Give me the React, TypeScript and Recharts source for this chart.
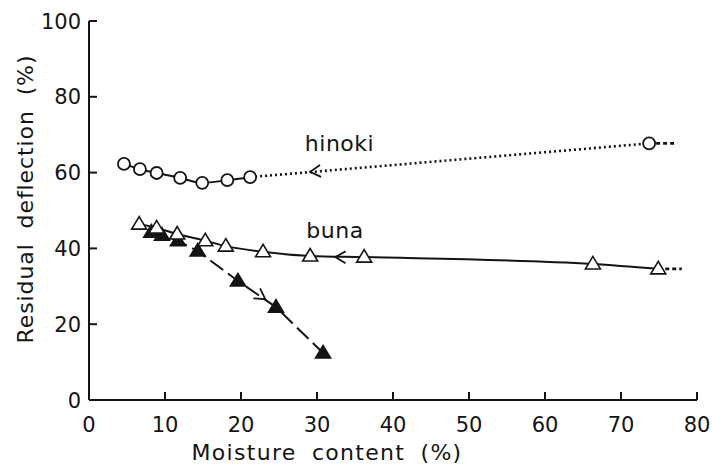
import React from 'react';
import { ComposedChart, Line, XAxis, YAxis, ReferenceDot } from 'recharts';

const xTicks = [0, 10, 20, 30, 40, 50, 60, 70, 80];
const yTicks = [0, 20, 40, 60, 80, 100];

const hinokiX = [4.6, 6.7, 8.9, 12.0, 14.9, 18.2, 21.2];
const hinokiY = [62.3, 60.9, 59.9, 58.6, 57.3, 58.0, 58.8];
const hinokiFarX = [21.2, 73.7];
const hinokiFarY = [58.8, 67.7];
const hinokiTailX = [73.7, 77.4];
const hinokiTailY = [67.7, 67.7];

const bunaOpenX = [6.6, 8.9, 11.6, 15.3, 18.0, 22.9, 29.1, 36.2, 66.3, 74.9];
const bunaOpenY = [46.4, 45.4, 43.8, 42.0, 40.6, 39.1, 38.0, 37.7, 35.9, 34.6];
const bunaTailX = [74.9, 78.0];
const bunaTailY = [34.6, 34.6];

const bunaFilledX = [8.2, 9.6, 11.7, 14.3, 19.6, 24.6, 30.8];
const bunaFilledY = [44.3, 43.5, 42.0, 39.3, 31.4, 24.5, 12.4];

const arrowX = [29.1, 32.4, 23.2];
const arrowY = [60.2, 37.7, 26.6];
const arrowAngle = [175, 181, 34];

const seriesLabels = ['hinoki', 'buna'];
const seriesLabelX = [28.4, 28.6];
const seriesLabelY = [65.7, 42.7];

const zip = (xs: number[], ys: number[]) => xs.map((x, i) => ({ x, y: ys[i] }));

const INK = '#141414';
const FONT = '"DejaVu Sans", sans-serif';

const CircleDot = (p: any) => (
  <circle key={p.key ?? `c${p.index}`} cx={p.cx} cy={p.cy} r={6} fill="#fff" stroke={INK} strokeWidth={1.8} />
);

const FirstCircleDot = (p: any) =>
  p.index === 0 ? (
    <circle key={p.key ?? `f${p.index}`} cx={p.cx} cy={p.cy} r={6} fill="#fff" stroke={INK} strokeWidth={1.8} />
  ) : (
    <g key={p.key ?? `f${p.index}`} />
  );

const TriDot = (filled: boolean) => (p: any) => (
  <polygon
    key={p.key ?? `t${p.index}`}
    points={`${p.cx},${p.cy - 7.5} ${p.cx - 7.5},${p.cy + 5} ${p.cx + 7.5},${p.cy + 5}`}
    fill={filled ? INK : '#fff'}
    stroke={INK}
    strokeWidth={1.6}
    strokeLinejoin="miter"
  />
);

const XTick = (p: any) => (
  <g>
    <line x1={p.x} x2={p.x} y1={p.y} y2={p.y - 8} stroke={INK} strokeWidth={2} />
    <text x={p.x} y={p.y + 32} textAnchor="middle" fontSize={21} fontFamily={FONT} fill={INK}>
      {p.payload.value}
    </text>
  </g>
);

const YTick = (p: any) => (
  <g>
    <line x1={p.x} x2={p.x + 8} y1={p.y} y2={p.y} stroke={INK} strokeWidth={2} />
    <text x={p.x - 8} y={p.y} dy="0.36em" textAnchor="end" fontSize={21} fontFamily={FONT} fill={INK}>
      {p.payload.value}
    </text>
  </g>
);

const Chevron = (angle: number) => (p: any) => {
  const a = (angle * Math.PI) / 180;
  const L = 12;
  const s = (30 * Math.PI) / 180;
  const x1 = p.cx - L * Math.cos(a - s);
  const y1 = p.cy - L * Math.sin(a - s);
  const x2 = p.cx - L * Math.cos(a + s);
  const y2 = p.cy - L * Math.sin(a + s);
  return (
    <path d={`M${x1},${y1} L${p.cx},${p.cy} L${x2},${y2}`} fill="none" stroke={INK} strokeWidth={1.8} />
  );
};

const SeriesText = (txt: string) => (p: any) => (
  <text x={p.cx} y={p.cy} fontSize={22} fontFamily={FONT} fill={INK} letterSpacing={0.5}>
    {txt}
  </text>
);

export default function App() {
  return (
    <div style={{ position: 'absolute', left: 0, top: 0, background: '#fff' }}>
      <ComposedChart width={712} height={464} margin={{ top: 21, right: 15, bottom: 34, left: 29 }}>
        <XAxis
          dataKey="x"
          type="number"
          domain={[0, 80]}
          ticks={xTicks}
          height={30}
          tickSize={0}
          tickMargin={0}
          tickLine={false}
          tick={XTick}
          axisLine={{ stroke: INK, strokeWidth: 2 }}
          allowDataOverflow
          label={{
            content: (lp: any) => (
              <text
                x={lp.viewBox.x + 238}
                y={lp.viewBox.y + 60}
                textAnchor="middle"
                fontSize={22}
                fontFamily={FONT}
                fill={INK}
                letterSpacing={1.3}
                wordSpacing={7}
              >
                Moisture content (%)
              </text>
            ),
          }}
        />
        <YAxis
          type="number"
          domain={[0, 100]}
          ticks={yTicks}
          width={60}
          tickSize={0}
          tickMargin={0}
          tickLine={false}
          tick={YTick}
          axisLine={{ stroke: INK, strokeWidth: 2 }}
          allowDataOverflow
          label={{
            content: (lp: any) => {
              const cx = lp.viewBox.x + 4;
              const cy = lp.viewBox.y + 178;
              return (
                <text
                  x={cx}
                  y={cy}
                  transform={`rotate(-90 ${cx} ${cy})`}
                  textAnchor="middle"
                  fontSize={22}
                  fontFamily={FONT}
                  fill={INK}
                  letterSpacing={0.9}
                  wordSpacing={7}
                >
                  Residual deflection (%)
                </text>
              );
            },
          }}
        />

        <Line data={zip(hinokiFarX, hinokiFarY)} dataKey="y" type="linear" stroke={INK} strokeWidth={2.6} strokeDasharray="2 3" dot={false} isAnimationActive={false} />
        <Line data={zip(hinokiTailX, hinokiTailY)} dataKey="y" type="linear" stroke={INK} strokeWidth={2.6} strokeDasharray="4 3" dot={FirstCircleDot} isAnimationActive={false} />
        <Line data={zip(hinokiX, hinokiY)} dataKey="y" type="monotone" stroke={INK} strokeWidth={2} dot={CircleDot} isAnimationActive={false} />

        <Line data={zip(bunaFilledX, bunaFilledY)} dataKey="y" type="linear" stroke={INK} strokeWidth={2} strokeDasharray="16 6" dot={TriDot(true)} isAnimationActive={false} />
        <Line data={zip(bunaTailX, bunaTailY)} dataKey="y" type="linear" stroke={INK} strokeWidth={2.6} strokeDasharray="4 3" dot={false} isAnimationActive={false} />
        <Line data={zip(bunaOpenX, bunaOpenY)} dataKey="y" type="monotone" stroke={INK} strokeWidth={2} dot={TriDot(false)} isAnimationActive={false} />

        {arrowX.map((x, i) => (
          <ReferenceDot key={`a${i}`} x={x} y={arrowY[i]} r={0} shape={Chevron(arrowAngle[i])} ifOverflow="visible" />
        ))}
        {seriesLabels.map((t, i) => (
          <ReferenceDot key={`l${i}`} x={seriesLabelX[i]} y={seriesLabelY[i]} r={0} shape={SeriesText(t)} ifOverflow="visible" />
        ))}
      </ComposedChart>
    </div>
  );
}
